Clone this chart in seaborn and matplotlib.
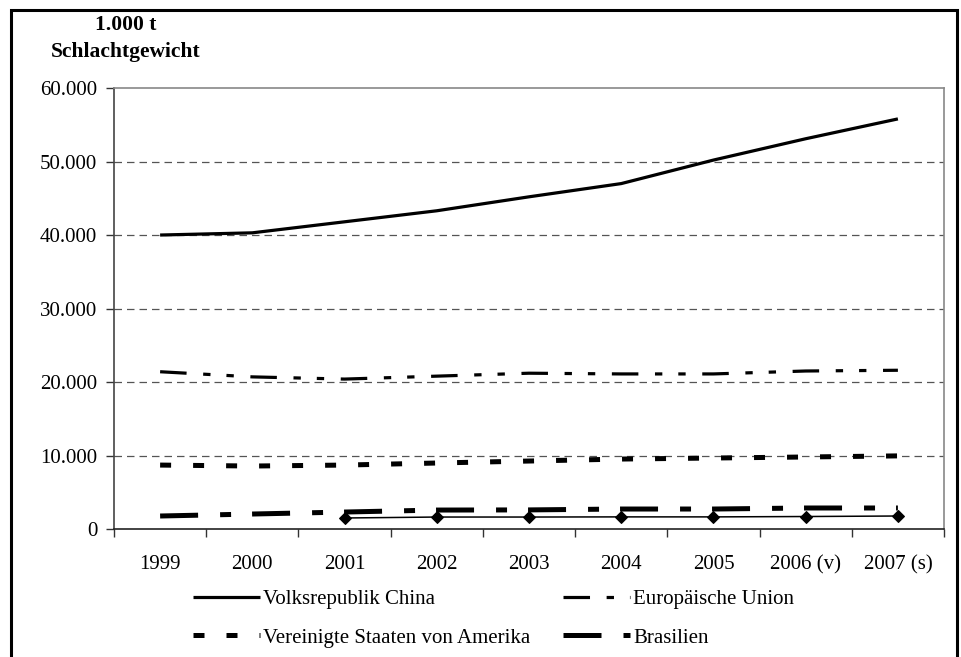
import matplotlib.pyplot as plt
import matplotlib.patches as mpatches
import seaborn as sns
import numpy as np
import pandas as pd

jahre = ['1999', '2000', '2001', '2002', '2003', '2004', '2005', '2006 (v)', '2007 (s)']
china = [40000, 40300, 41800, 43300, 45200, 47000, 50200, 53100, 55800]
eu = [21400, 20700, 20400, 20800, 21200, 21100, 21100, 21500, 21600]
usa = [8700, 8570, 8700, 8980, 9250, 9520, 9660, 9800, 9950]
brasilien = [1770, 2040, 2310, 2580, 2600, 2720, 2720, 2860, 2860]
# fifth series without legend entry (from 2001 on)
jahre_raute = jahre[2:]
raute = [1500, 1630, 1630, 1650, 1650, 1700, 1770]

y_ticks = [0, 10000, 20000, 30000, 40000, 50000, 60000]
y_labels = ['0', '10.000', '20.000', '30.000', '40.000', '50.000', '60.000']


sns.set_theme(style="white")
plt.rcParams['font.family'] = ['Liberation Serif', 'DejaVu Serif']
plt.rcParams['font.size'] = 15
plt.rcParams['text.color'] = 'black'
plt.rcParams['xtick.color'] = 'black'
plt.rcParams['ytick.color'] = 'black'

fig = plt.figure(figsize=(9.62, 6.57), dpi=100)
ax = fig.add_axes([0.1185, 0.1948, 0.8628, 0.6712])

df = pd.DataFrame({'Jahr': jahre, 'China': china, 'EU': eu,
                   'USA': usa, 'Brasilien': brasilien})
df_raute = pd.DataFrame({'Jahr': jahre_raute, 'Wert': raute})

sns.lineplot(data=df, x='Jahr', y='China', sort=False, ax=ax,
             color='black', lw=2.3, label='Volksrepublik China')
sns.lineplot(data=df, x='Jahr', y='EU', sort=False, ax=ax,
             color='black', lw=2.3, label='Europäische Union')
sns.lineplot(data=df, x='Jahr', y='USA', sort=False, ax=ax,
             color='black', lw=3.6, label='Vereinigte Staaten von Amerika')
sns.lineplot(data=df, x='Jahr', y='Brasilien', sort=False, ax=ax,
             color='black', lw=3.6, label='Brasilien')
sns.lineplot(data=df_raute, x='Jahr', y='Wert', sort=False, ax=ax,
             color='black', lw=1.1, marker='D', markersize=6,
             markeredgecolor='black', label='_nolegend_')

lines = ax.get_lines()
lines[0].set_solid_capstyle('butt')
lines[1].set_dashes([8.3, 5.2, 2.3, 5.0, 2.3, 5.2])
lines[2].set_dashes([2.2, 4.4])
lines[3].set_dashes([7.6, 4.4, 2.2, 4.2])
for ln in lines[:4]:
    ln.set_dash_capstyle('butt')

ax.set_xlim(-0.5, 8.5)
ax.set_ylim(0, 60000)
ax.set_yticks(y_ticks)
ax.set_yticklabels(y_labels)
ax.set_xticks(np.arange(-0.5, 9, 1))
ax.set_xticklabels([''] * 10)
ax.set_xticks(np.arange(9), minor=True)
ax.set_xticklabels(jahre, minor=True)
ax.tick_params(axis='x', which='minor', length=0, pad=19, labelsize=15)
ax.tick_params(axis='x', which='major', length=6, width=1, color='#333333',
               direction='out', bottom=True)
ax.tick_params(axis='y', length=6, width=1, color='#333333', direction='out',
               left=True, pad=6, labelsize=15)
ax.set_xlabel('')
ax.set_ylabel('')

for y in y_ticks[1:-1]:
    ax.axhline(y, color='#555555', lw=0.9, ls=(0, (6, 4)), zorder=0)

for side in ['top', 'right']:
    ax.spines[side].set_color('#888888')
    ax.spines[side].set_linewidth(1.2)
ax.spines['left'].set_color('#444444')
ax.spines['left'].set_linewidth(1.2)
ax.spines['bottom'].set_color('#222222')
ax.spines['bottom'].set_linewidth(1.2)

ax.get_legend().remove()
handles, labels = ax.get_legend_handles_labels()
order = [0, 2, 1, 3]
fig.legend([handles[i] for i in order], [labels[i] for i in order],
           ncol=2, loc='upper left', bbox_to_anchor=(0.192, 0.115),
           frameon=False, fontsize=15, handlelength=3.2, handletextpad=0.15,
           columnspacing=1.6, labelspacing=0.9, borderaxespad=0)

fig.text(0.131, 0.962, '1.000 t', fontsize=15.5, fontweight='bold',
         ha='center', va='center')
fig.text(0.131, 0.921, 'Schlachtgewicht', fontsize=15.5, fontweight='bold',
         ha='center', va='center')

frame = mpatches.Rectangle((11 / 962, -0.05), 946 / 962, 1.05 - 10 / 657,
                           transform=fig.transFigure, fill=False,
                           edgecolor='black', lw=2.2, clip_on=False)
fig.patches.append(frame)

fig.savefig('out.png', dpi=100)
